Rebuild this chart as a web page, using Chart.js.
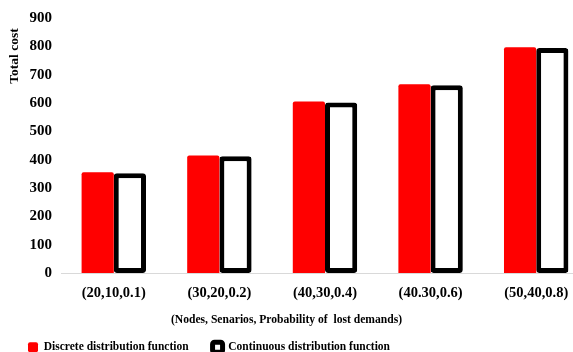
<!DOCTYPE html>
<html>
<head>
<meta charset="utf-8">
<script src="https://cdn.jsdelivr.net/npm/chart.js@4"></script>
<style>
  html, body { margin: 0; padding: 0; background: #fff; overflow: hidden; }
  #wrap { width: 589px; height: 363px; }
</style>
</head>
<body>
<div id="wrap"><canvas id="costChart"></canvas></div>
<script>
const categories = ['(20,10,0.1)', '(30,20,0.2)', '(40,30,0.4)', '(40.30,0.6)', '(50,40,0.8)'];
const discreteCost = [356, 415, 605, 666, 797];
const continuousCost = [352, 412, 602, 663, 794];
const yTicks = [0, 100, 200, 300, 400, 500, 600, 700, 800, 900];

const xTitle = '(Nodes, Senarios, Probability of  lost demands)';
const yTitle = 'Total cost';

const serif = '"Liberation Serif", "DejaVu Serif", serif';

// axis titles drawn by hand: x title centred on the page, y title near the top
const axisTitles = {
    id: 'axisTitles',
    afterDraw(chart) {
        const {ctx} = chart;
        const x = chart.scales.x;
        ctx.save();
        ctx.fillStyle = '#000';
        ctx.textAlign = 'center';
        ctx.textBaseline = 'middle';

        ctx.font = 'bold 11.6px ' + serif;
        ctx.fillText(xTitle, window.innerWidth / 2, x.top + 47);

        ctx.translate(14.5, 56);
        ctx.rotate(-Math.PI / 2);
        ctx.font = 'bold 13.5px ' + serif;
        ctx.fillText(yTitle, 0, 0);
        ctx.restore();
    }
};

const ctx = document.getElementById('costChart');

new Chart(ctx, {
    type: 'bar',

    data: {
        labels: categories,
        datasets: [{
            label: 'Discrete distribution function',
            data: discreteCost,
            backgroundColor: '#ff0000',
            borderColor: '#ff0000',
            borderWidth: 0,
            borderRadius: 2
        }, {
            label: 'Continuous distribution function',
            data: continuousCost,
            backgroundColor: '#ffffff',
            borderColor: '#000000',
            borderWidth: 5,
            borderRadius: 3,
            borderSkipped: false
        }]
    },

    plugins: [axisTitles],

    options: {
        responsive: true,
        maintainAspectRatio: false,
        animation: false,
        layout: {
            padding: { top: 11, right: 0, left: 4, bottom: 0 }
        },
        datasets: {
            bar: {
                barPercentage: 1,
                categoryPercentage: 0.61
            }
        },
        plugins: {
            legend: {
                position: 'bottom',
                align: 'start',
                labels: {
                    color: '#000',
                    boxWidth: 10,
                    boxHeight: 10,
                    padding: 24,
                    useBorderRadius: true,
                    borderRadius: 2,
                    font: { family: serif, size: 11.5, weight: 'bold' }
                }
            },
            tooltip: { enabled: false }
        },
        scales: {
            x: {
                grid: { display: false, drawTicks: false },
                border: { display: true, color: '#d9d9d9', width: 1 },
                ticks: {
                    color: '#000',
                    padding: 12,
                    font: { family: serif, size: 14.5, weight: 'bold' }
                },
                afterFit(scale) {
                    scale.height = 44.5;
                }
            },
            y: {
                min: 0,
                max: 900,
                afterBuildTicks(axis) {
                    axis.ticks = yTicks.map(v => ({ value: v }));
                },
                grid: { display: false, drawTicks: false },
                border: { display: false },
                ticks: {
                    color: '#000',
                    padding: 9,
                    font: { family: serif, size: 15, weight: 'bold' }
                },
                afterFit(scale) {
                    scale.width = 57;
                }
            }
        }
    }
});
</script>
</body>
</html>
